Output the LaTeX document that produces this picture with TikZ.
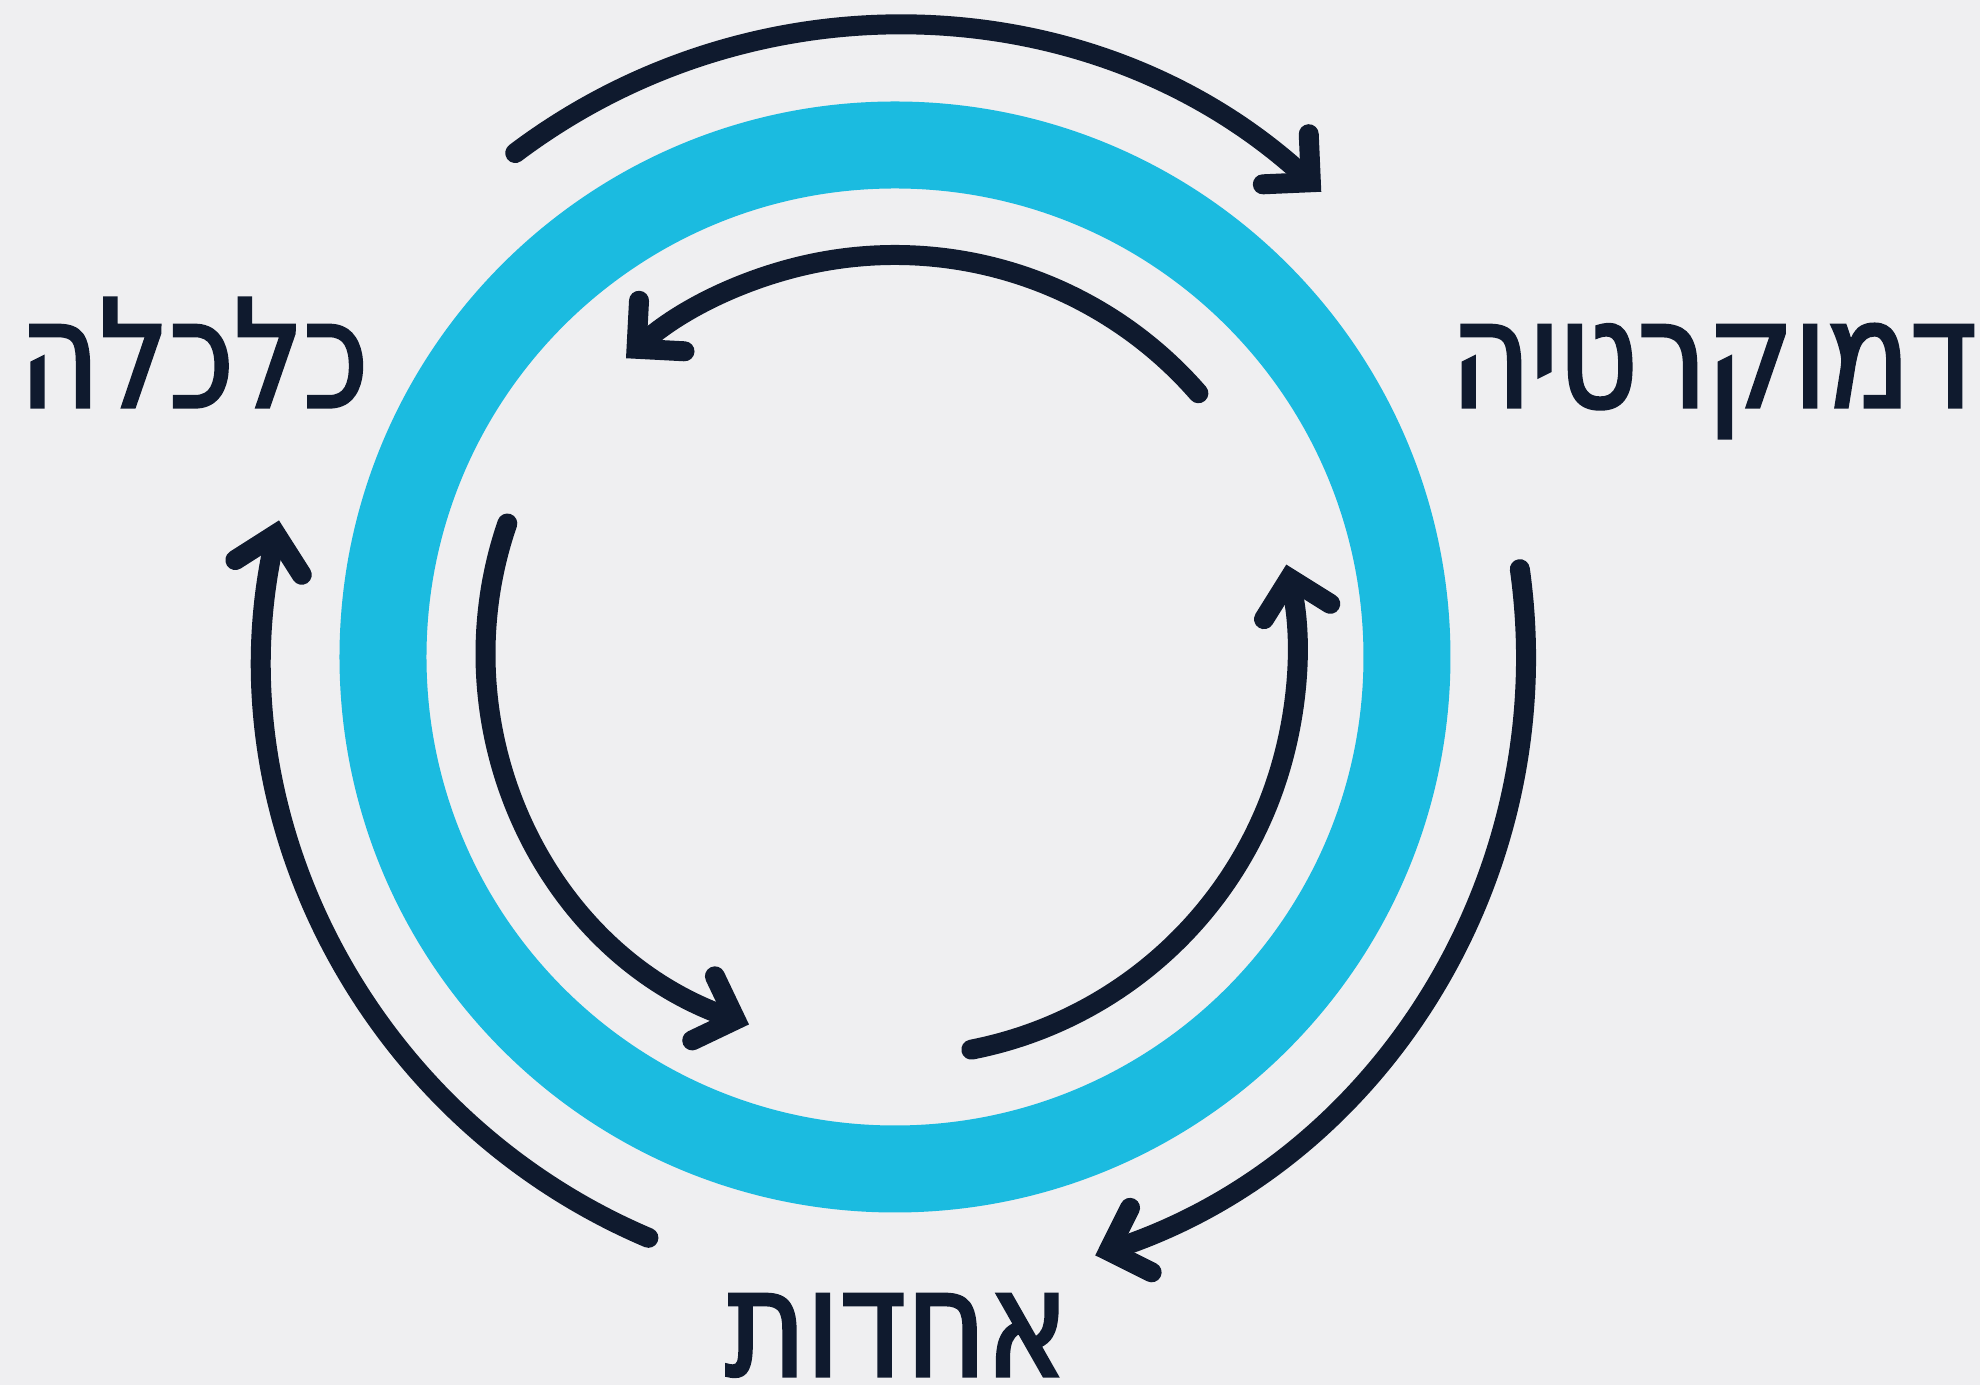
\documentclass[tikz,border=0pt]{standalone}
\usepackage{fontspec}
\newfontfamily\hebfont[Script=Hebrew,FakeStretch=0.82,FakeBold=2.2]{DejaVu Sans}
\TeXXeTstate=1
\usetikzlibrary{arrows.meta}
\definecolor{ringblue}{HTML}{1BBBE0}
\definecolor{ink}{HTML}{0F1A2E}
\definecolor{paper}{HTML}{EFEFF1}
\tikzset{%
  ring/.style={draw=ringblue,line width=8.7mm},
  flow/.style={draw=ink,line width=2mm,line cap=round,-{Straight Barb[length=3.4mm,width=6.8mm,line cap=round,line join=miter]}},
  word/.style={text=ink,font=\hebfont\fontsize{42.5}{48}\selectfont,inner sep=0pt,anchor=base}%
}

\begin{document}
\begin{tikzpicture}[x=0.1mm,y=0.1mm]
    \useasboundingbox (-895,-728) rectangle (1085,657);
    \fill[paper] (-895,-728) rectangle (1085,657);
    \draw[ring] (0,0) circle (512);

    % outer arrows, clockwise
    \draw[flow] (127:631) arc[start angle=127,end angle=47.5,radius=631];
    \draw[flow] (8:631) arc[start angle=8,end angle=-71.5,radius=631];
    \draw[flow] (247:631) arc[start angle=247,end angle=167.5,radius=631];

    % inner arrows, counter-clockwise
    \draw[flow] (41:402) arc[start angle=41,end angle=132,radius=402];
    \draw[flow] (161:410) arc[start angle=161,end angle=250.5,radius=395];
    \draw[flow] (281:400) arc[start angle=281,end angle=373,radius=402];

    \node (econ) [word] at (-701,250) {\beginR כלכלה\endR};
    \node (democ) [word] at (819,250) {\beginR דמוקרטיה\endR};
    \node (unity) [word] at (2,-719) {\beginR אחדות\endR};
\end{tikzpicture}
\end{document}
